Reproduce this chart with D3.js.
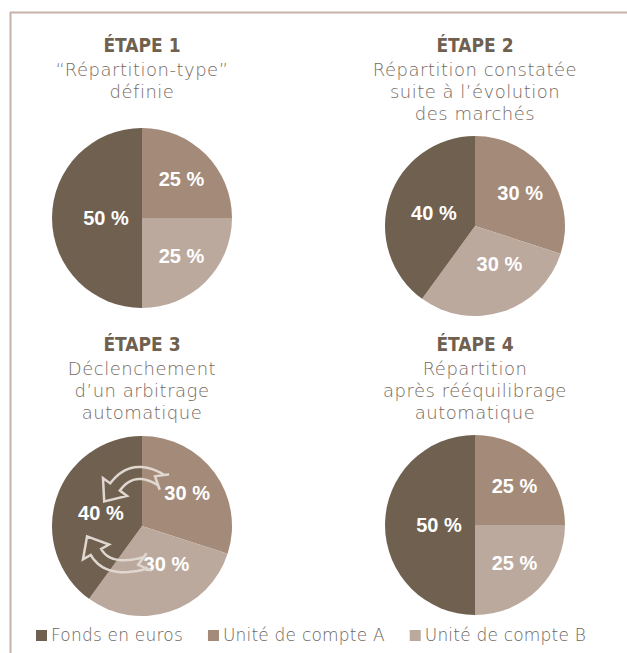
<!DOCTYPE html>
<html>
<head>
<meta charset="utf-8">
<script src="https://cdn.jsdelivr.net/npm/d3@7"></script>
<style>
  html, body { margin: 0; padding: 0; background: #ffffff; }
  svg { display: block; }
</style>
</head>
<body>
<svg id="chart" width="627" height="653"></svg>
<script>
// ---------- DATA ----------
const categories = ["Fonds en euros", "Unité de compte A", "Unité de compte B"];
const stepTitles = ["ÉTAPE 1", "ÉTAPE 2", "ÉTAPE 3", "ÉTAPE 4"];
const stepSubtitles = [
  ["“Répartition-type”", "définie"],
  ["Répartition constatée", "suite à l’évolution", "des marchés"],
  ["Déclenchement", "d’un arbitrage", "automatique"],
  ["Répartition", "après rééquilibrage", "automatique"]
];
const fondsEuros = [50, 40, 40, 50];
const uniteA     = [25, 30, 30, 25];
const uniteB     = [25, 30, 30, 25];

// ---------- STYLE / LAYOUT ----------
const colors = { "Fonds en euros": "#6f604f", "Unité de compte A": "#a48a79", "Unité de compte B": "#bca99e" };
const W = 627, H = 653;
const frameColor = "#c6b3a9";
const titleColor = "#6f604f";
const textColor = "#756960";
const legendTextColor = "#6b6560";
const subFont = "'DejaVu Sans', sans-serif";
const titleFont = "'Liberation Sans Narrow', 'DejaVu Sans Condensed', 'Roboto Condensed', sans-serif";
const labelFont = "'Liberation Sans', Arial, sans-serif";
const R = 90;
const panels = [
  { cx: 142, titleY: 52, cy: 218 },
  { cx: 475, titleY: 52, cy: 226 },
  { cx: 142, titleY: 351, cy: 526 },
  { cx: 475, titleY: 351, cy: 525 }
];
const lineH = 22;

const svg = d3.select("#chart");
svg.append("rect").attr("width", W).attr("height", H).attr("fill", "#ffffff");

// frame
svg.append("line").attr("x1", 10).attr("x2", W).attr("y1", 12.5).attr("y2", 12.5)
  .attr("stroke", frameColor).attr("stroke-width", 2);
svg.append("line").attr("x1", 10.5).attr("x2", 10.5).attr("y1", 12).attr("y2", H)
  .attr("stroke", frameColor).attr("stroke-width", 2);

const pie = d3.pie().sort(null).value(d => d.value);
const arc = d3.arc().innerRadius(0).outerRadius(R);

panels.forEach((p, i) => {
  const g = svg.append("g").attr("transform", `translate(${p.cx},0)`);
  g.append("text")
    .attr("x", 0).attr("y", p.titleY)
    .attr("text-anchor", "middle")
    .attr("font-family", titleFont).attr("font-weight", "bold").attr("font-size", 19)
    .attr("fill", titleColor)
    .text(stepTitles[i]);
  stepSubtitles[i].forEach((line, k) => {
    g.append("text")
      .attr("x", 0).attr("y", p.titleY + (k + 1) * lineH + 2)
      .attr("text-anchor", "middle")
      .attr("font-family", subFont).attr("font-weight", 200).attr("font-size", 18)
      .attr("letter-spacing", "0.5px")
      .attr("fill", textColor)
      .text(line);
  });

  const data = [
    { key: categories[1], value: uniteA[i] },
    { key: categories[2], value: uniteB[i] },
    { key: categories[0], value: fondsEuros[i] }
  ];
  const pg = svg.append("g").attr("transform", `translate(${p.cx},${p.cy})`);
  const arcs = pie(data);
  pg.selectAll("path.slice").data(arcs).enter().append("path")
    .attr("class", "slice")
    .attr("d", arc)
    .attr("fill", d => colors[d.data.key]);

  pg.selectAll("text.lbl").data(arcs).enter().append("text")
    .attr("class", "lbl")
    .attr("transform", d => {
      const lr = d.data.value >= 40 ? R * (d.data.value >= 50 ? 0.4 : 0.48) : R * 0.62;
      const c = d3.arc().innerRadius(lr).outerRadius(lr).centroid(d);
      let x = c[0], y = c[1];
      const yMax = R * 0.42;
      if (y > yMax) {
        y = yMax;
        x = Math.max(x, Math.sqrt((R * 0.5) ** 2 - yMax ** 2));
      }
      return `translate(${x},${y})`;
    })
    .attr("dy", "0.36em")
    .attr("text-anchor", "middle")
    .attr("font-family", labelFont).attr("font-weight", "bold").attr("font-size", 20)
    .attr("fill", "#ffffff")
    .text(d => d.data.value + " %");

  // arbitrage arrows for step 3
  if (i === 2) {
    const arrows = [
      { p0: [19, -46], c: [-9, -63], p1: [-27, -39] },
      { p0: [3, 37], c: [-34, 47], p1: [-46, 26] }
    ];
    arrows.forEach(a => {
      pg.append("path")
        .attr("d", arrowPath(a.p0, a.c, a.p1, 18, 12, 30, 7))
        .attr("fill", "none")
        .attr("stroke", "#e0d7d0")
        .attr("stroke-width", 2.5)
        .attr("stroke-linejoin", "miter");
    });
  }
});

function arrowPath(p0, c, p1, headLen, shaftW, headW, notch) {
  const N = 16;
  const pts = [], nrm = [];
  for (let k = 0; k <= N; k++) {
    const t = k / N;
    const x = (1 - t) * (1 - t) * p0[0] + 2 * (1 - t) * t * c[0] + t * t * p1[0];
    const y = (1 - t) * (1 - t) * p0[1] + 2 * (1 - t) * t * c[1] + t * t * p1[1];
    let dx = 2 * (1 - t) * (c[0] - p0[0]) + 2 * t * (p1[0] - c[0]);
    let dy = 2 * (1 - t) * (c[1] - p0[1]) + 2 * t * (p1[1] - c[1]);
    const L = Math.hypot(dx, dy); dx /= L; dy /= L;
    pts.push([x, y]); nrm.push([-dy, dx, dx, dy]);
  }
  const hw = shaftW / 2, hh = headW / 2;
  const left = pts.map((q, k) => [q[0] + nrm[k][0] * hw, q[1] + nrm[k][1] * hw]);
  const right = pts.map((q, k) => [q[0] - nrm[k][0] * hw, q[1] - nrm[k][1] * hw]);
  const e = pts[N], en = nrm[N];
  const tip = [e[0] + en[2] * headLen, e[1] + en[3] * headLen];
  const hl = [e[0] + en[0] * hh, e[1] + en[1] * hh];
  const hr = [e[0] - en[0] * hh, e[1] - en[1] * hh];
  const s = pts[0], sn = nrm[0];
  const nt = [s[0] + sn[2] * notch, s[1] + sn[3] * notch];
  const tl = [left[0][0] - sn[2] * 4 + sn[0] * 3, left[0][1] - sn[3] * 4 + sn[1] * 3];
  const tr = [right[0][0] - sn[2] * 4 - sn[0] * 3, right[0][1] - sn[3] * 4 - sn[1] * 3];
  const path = d3.path();
  path.moveTo(tl[0], tl[1]);
  left.forEach(q => path.lineTo(q[0], q[1]));
  path.lineTo(hl[0], hl[1]);
  path.lineTo(tip[0], tip[1]);
  path.lineTo(hr[0], hr[1]);
  right.slice().reverse().forEach(q => path.lineTo(q[0], q[1]));
  path.lineTo(tr[0], tr[1]);
  path.lineTo(nt[0], nt[1]);
  path.closePath();
  return path.toString();
}

// ---------- LEGEND ----------
const legend = svg.append("g").attr("transform", "translate(36,0)");
let lx = 0;
categories.forEach(cat => {
  const item = legend.append("g").attr("transform", `translate(${lx},0)`);
  item.append("rect").attr("x", 0).attr("y", 630).attr("width", 11).attr("height", 11)
    .attr("fill", colors[cat]);
  const t = item.append("text").attr("x", 15).attr("y", 641)
    .attr("font-family", subFont).attr("font-weight", 200).attr("font-size", 17)
    .attr("letter-spacing", "0.2px")
    .attr("fill", legendTextColor)
    .text(cat);
  lx += 15 + t.node().getComputedTextLength() + 25;
});
</script>
</body>
</html>
